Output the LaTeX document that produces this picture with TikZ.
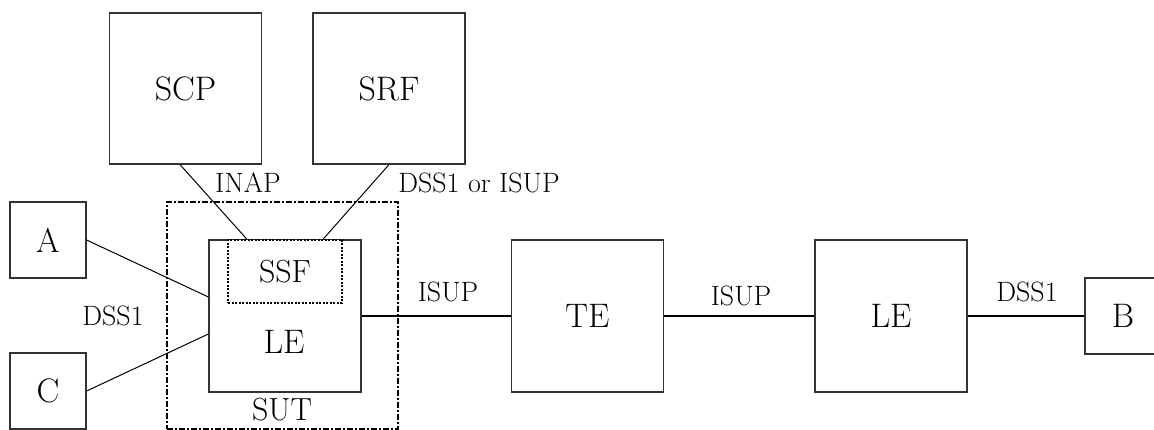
\documentclass[tikz,border=0pt]{standalone}
\usepackage{fontspec}

\tikzset{
  unit/.style={draw=black!80, line width=1.2pt, inner sep=0pt,
    minimum width=152pt, minimum height=152pt, font=\fontsize{34}{34}\selectfont},
  term/.style={unit, minimum width=76pt, minimum height=76pt},
  lbl/.style={inner sep=0pt, font=\fontsize{28}{28}\selectfont},
  wire/.style={line width=1.7pt},
  link/.style={line width=1pt},
}

\begin{document}
\begin{tikzpicture}[x=1pt,y=-1pt]
\useasboundingbox (0,0) rectangle (1154,430);

\node[unit, minimum height=151pt] (scp) at (185.5,88.5) {SCP};
\node[unit, minimum height=151pt] (srf) at (389,88.5) {SRF};
\node[term] (a) at (48,240) {A};
\node[term] (c) at (48,391) {C};
\node[draw, line width=1.3pt, dash pattern=on 6pt off 2pt on 2pt off 2pt,
  minimum width=231pt, minimum height=227pt] (sut) at (282.5,315.5) {};
\node[unit] (le1) at (285,316) {};
\node[draw, line width=1.3pt, dash pattern=on 2pt off 1.5pt, fill=white,
  preaction={draw=white, line width=2.5pt}, inner sep=0pt,
  minimum width=114pt, minimum height=63pt, font=\fontsize{32}{32}\selectfont] (ssf) at (285,271.5) {SSF};
\node[unit] (te) at (587.5,316) {TE};
\node[unit] (le2) at (891,316) {LE};
\node[term] (b) at (1123,316) {B};

\node[inner sep=0pt, font=\fontsize{34}{34}\selectfont] (letext) at (284,342) {LE};
\node[inner sep=0pt, font=\fontsize{32}{32}\selectfont] (suttext) at (282,410) {SUT};

\node[lbl] (inap) at (248,183) {INAP};
\node[lbl] (dssisup) at (479,183) {DSS1 or ISUP};
\node[lbl] (dssa) at (113,316) {DSS1};
\node[lbl] (isupa) at (448,292) {ISUP};
\node[lbl] (isupb) at (741,296) {ISUP};
\node[lbl] (dssb) at (1027,292) {DSS1};

\path[draw,link] ([xshift=-5.5pt]scp.south) -- ([xshift=-38pt]ssf.north);
\path[draw,link] (srf.south) -- ([xshift=38pt]ssf.north);
\path[draw,link] (a.east) -- ([yshift=19pt]le1.west);
\path[draw,link] (c.east) -- ([yshift=-18pt]le1.west);
\path[draw,wire] (le1.east) -- (te.west);
\path[draw,wire] (te.east) -- (le2.west);
\path[draw,wire] (le2.east) -- (b.west);
\end{tikzpicture}
\end{document}
